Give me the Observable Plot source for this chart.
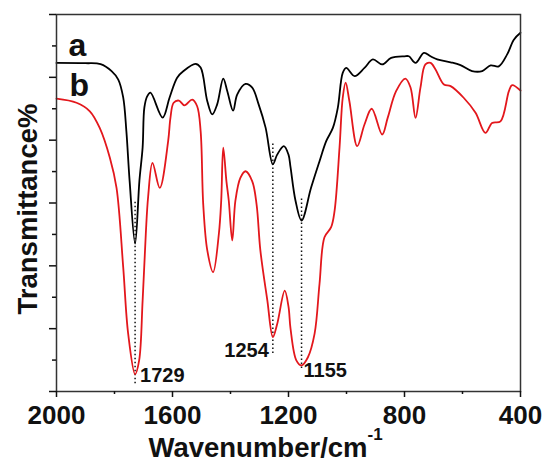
<!DOCTYPE html>
<html><head><meta charset="utf-8">
<script src="https://cdn.jsdelivr.net/npm/d3@7"></script>
<script src="https://cdn.jsdelivr.net/npm/@observablehq/plot@0.6"></script>
<style>body{margin:0;background:#fff}</style>
</head><body><div id="chart"></div>
<script>
// Spectrum a (black)
const wnA = [2000,1900,1848,1810,1787,1770,1759,1748,1729,1714,1703,1697,1687,1676,1634,1610,1584,1562,1521,1503,1480,1463,1446,1425,1411,1391,1377,1348,1325,1303,1279,1254,1239,1216,1200,1193,1176,1155,1122,1093,1070,1047,1030,1013,1001,972,938,909,877,846,800,785,762,733,710,687,641,607,567,532,503,475,446,423,400];
const tA  = [104.6,104.5,104.2,102.0,99.3,93.6,82.8,67.2,47.1,67.2,77.7,90.4,94.0,95.1,87.2,93.6,99.9,102.0,104.3,103.1,92.4,88.2,91.4,99.6,95.6,89.4,94.5,97.9,96.7,91.4,84.0,72.3,75.4,78.1,75.4,71.4,60.8,54.4,64.9,73.3,79.7,83.9,90.3,101.4,103.0,100.4,103.0,105.7,104.1,106.2,106.7,106.7,104.6,107.8,106.7,105.7,104.8,103.9,102.0,102.0,103.8,103.5,107.3,112.0,114.2];
// Spectrum b (red)
const wnB = [2000,1931,1885,1851,1816,1793,1770,1753,1729,1715,1703,1692,1684,1669,1644,1615,1607,1596,1578,1559,1532,1515,1503,1494,1480,1460,1440,1432,1425,1414,1406,1394,1383,1366,1348,1325,1310,1297,1273,1254,1239,1213,1200,1193,1173,1155,1133,1110,1093,1076,1053,1041,1024,1013,1003,990,963,938,913,877,858,829,797,779,762,745,728,710,693,664,641,596,555,521,498,469,440,429,400];
const tB  = [93.2,91.9,89.2,83.9,74.4,64.8,39.6,18.5,5.5,9.9,29.0,50.3,62.0,72.8,64.8,79.7,87.2,91.9,92.6,91.1,92.9,90.8,82.9,59.5,44.9,38.0,50.3,60.8,77.6,66.9,60.8,48.1,60.8,68.0,70.1,66.9,59.5,44.9,29.0,17.3,21.5,32.1,27.0,20.0,9.9,8.3,10.9,18.4,34.3,49.1,52.3,57.6,77.7,93.5,98.3,92.4,78.1,85.0,90.0,81.8,87.1,95.6,99.6,96.7,87.1,96.7,104.1,104.6,102.5,97.7,97.2,93.5,88.7,82.3,85.5,86.0,95.6,97.5,95.8];
// Marked bands
const peakWn = [1729, 1254, 1155];
const peakT = [5.5, 17.3, 8.3];
const peakLabels = ["1729", "1254", "1155"];
const dropTop = [60.2, 78.9, 62.1];
const dropBottom = [2.5, 12.1, 7.3];
// Axis ticks
const xMajor = [2000, 1600, 1200, 800, 400];
const xMinor = [1800, 1400, 1000, 600];
const yMajor = [0, 20, 40, 60, 80, 100, 120];
const yMinor = [10, 30, 50, 70, 90, 110];
const seriesNames = ["a", "b"];
const xTitle = "Wavenumber/cm";
const xTitleSup = "-1";
const yTitle = "Transmittance%";

const A = wnA.map((w, i) => ({wn: w, t: tA[i]}));
const B = wnB.map((w, i) => ({wn: w, t: tB[i]}));
const drops = peakWn.map((w, i) => ({wn: w, y1: dropBottom[i], y2: dropTop[i]}));
const peaks = peakWn.map((w, i) => ({wn: w, t: peakT[i], label: peakLabels[i]}));

const font = "'Liberation Sans', Arial, sans-serif";
const bold = {fontWeight: "bold"};
const labelOffsets = [
  {dx: 5, dy: 8, textAnchor: "start"},
  {dx: -4, dy: 20, textAnchor: "end"},
  {dx: 2, dy: 12, textAnchor: "start"}
];

const chart = Plot.plot({
  width: 548, height: 464,
  marginLeft: 56, marginRight: 28, marginTop: 14, marginBottom: 73,
  style: {fontFamily: font, background: "#fff", color: "#111"},
  x: {domain: [2000, 400], label: null},
  y: {domain: [0, 120], label: null},
  marks: [
    Plot.ruleX(drops, {x: "wn", y1: "y1", y2: "y2", stroke: "#111", strokeWidth: 1.5, strokeDasharray: "1.5,2.5"}),
    Plot.lineY(B, {x: "wn", y: "t", stroke: "#e3171c", strokeWidth: 1.8, curve: "catmull-rom"}),
    Plot.lineY(A, {x: "wn", y: "t", stroke: "#000", strokeWidth: 1.8, curve: "catmull-rom"}),
    Plot.frame({stroke: "#333", strokeWidth: 1.5}),
    Plot.axisX(xMajor, {tickSize: 6, tickPadding: 8, fontSize: 26, ...bold, strokeWidth: 1.5, tickFormat: d => String(d), label: null}),
    Plot.axisX(xMinor, {tickSize: 3, strokeWidth: 1.5, tickFormat: () => "", label: null}),
    Plot.axisY(yMajor, {tickSize: 7, strokeWidth: 1.5, tickFormat: () => "", label: null}),
    Plot.axisY(yMinor, {tickSize: 4, strokeWidth: 1.5, tickFormat: () => "", label: null}),
    ...peaks.map((p, i) => Plot.text([p], {x: "wn", y: "t", text: "label", fontSize: 20, ...bold, lineAnchor: "bottom", ...labelOffsets[i]})),
    Plot.text([seriesNames[0]], {frameAnchor: "top-left", dx: 12, dy: 41, text: d => d, textAnchor: "start", lineAnchor: "bottom", fontSize: 32, ...bold}),
    Plot.text([seriesNames[1]], {frameAnchor: "top-left", dx: 13, dy: 81, text: d => d, textAnchor: "start", lineAnchor: "bottom", fontSize: 32, ...bold}),
    Plot.text([xTitle], {frameAnchor: "bottom-left", dx: 92, dy: 65, text: d => d, textAnchor: "start", lineAnchor: "bottom", fontSize: 27.5, ...bold}),
    Plot.text([yTitle], {frameAnchor: "left", dx: -20, dy: 6, rotate: -90, text: d => d, textAnchor: "middle", lineAnchor: "bottom", fontSize: 27.5, ...bold})
  ]
});
// superscript on the x-axis title (absolute y inside the text's own coordinates)
d3.select(chart).selectAll("text")
  .filter(function() { return this.textContent === xTitle; })
  .each(function() {
    const y0 = parseFloat(this.getAttribute("y") || "0");
    d3.select(this).append("tspan")
      .attr("font-size", 17)
      .attr("y", y0 - 17)
      .text(xTitleSup);
  });
document.getElementById("chart").appendChild(chart);
</script>
</body></html>
